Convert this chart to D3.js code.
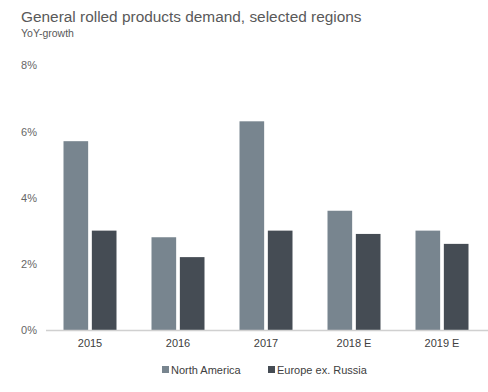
<!DOCTYPE html>
<html><head><meta charset="utf-8">
<script src="https://cdn.jsdelivr.net/npm/d3@7"></script>
<style>body{margin:0;background:#fff}svg{display:block;font-family:"Liberation Sans",Arial,sans-serif}</style>
</head><body><svg id="c" width="488" height="392"></svg>
<script>
const categories = ["2015","2016","2017","2018 E","2019 E"];
const northAmerica = [5.7,2.8,6.3,3.6,3.0];
const europe = [3.0,2.2,3.0,2.9,2.6];
const seriesNames = ["North America","Europe ex. Russia"];
const yTicks = [0,2,4,6,8];
const colors = ["#78858f","#454c54"];

const svg = d3.select("#c");
const x = d3.scaleBand().domain(categories).range([46,486]);
const y = d3.scaleLinear().domain([0,8]).range([330,65]);
const sub = d3.scaleBand().domain([0,1]).range([0,53]).paddingInner(0.13);

svg.append("text").attr("x",21).attr("y",22).attr("font-size",15.4).attr("fill","#595959").text("General rolled products demand, selected regions");
svg.append("text").attr("x",21).attr("y",37).attr("font-size",10.5).attr("fill","#595959").text("YoY-growth");

const data = [northAmerica, europe];
data.forEach((vals,si)=>{
  svg.append("g").selectAll("rect").data(vals).join("rect")
    .attr("x",(d,i)=>x(categories[i])+x.bandwidth()/2-26.5+sub(si))
    .attr("width",sub.bandwidth())
    .attr("y",d=>y(d)).attr("height",d=>y(0)-y(d))
    .attr("fill",colors[si]);
});

const ya = d3.axisLeft(y).tickValues(yTicks).tickFormat(d=>d+"%").tickSize(0);
const yg = svg.append("g").attr("transform","translate(37,0)").call(ya);
yg.select(".domain").remove();
yg.selectAll("text").attr("font-size",11).attr("fill","#666666").attr("font-family","Liberation Sans, Arial, sans-serif").attr("dy","0.35em").attr("x",0);

const xa = d3.axisBottom(x).tickSize(0).tickPadding(9);
const xg = svg.append("g").attr("transform","translate(0,330.5)").call(xa);
xg.select(".domain").attr("stroke","#d0d0d0").attr("stroke-width",1.5).attr("d","M46,0H488");
xg.selectAll("text").attr("font-size",11).attr("fill","#404040").attr("font-family","Liberation Sans, Arial, sans-serif");

const leg = [[162,171],[268,277]];
seriesNames.forEach((n,i)=>{
  svg.append("rect").attr("x",leg[i][0]).attr("y",366).attr("width",7).attr("height",7).attr("fill",colors[i]);
  svg.append("text").attr("x",leg[i][1]).attr("y",373.5).attr("font-size",11).attr("fill","#404040").text(n);
});
</script></body></html>
